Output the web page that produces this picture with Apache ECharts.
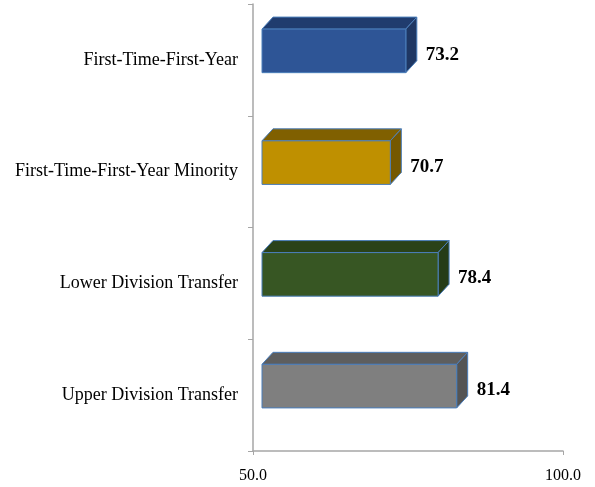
<!DOCTYPE html>
<html>
<head>
<meta charset="utf-8">
<script src="https://cdn.jsdelivr.net/npm/echarts@6/dist/echarts.min.js"></script>
<style>html,body{margin:0;padding:0;background:#fff;}#c{width:595px;height:487px;}</style>
</head>
<body>
<div id="c"></div>
<script>
const categories = ['First-Time-First-Year', 'First-Time-First-Year Minority', 'Lower Division Transfer', 'Upper Division Transfer'];
const values = [73.2, 70.7, 78.4, 81.4];
const xTicks = [50, 100];
const frontColors = ['#2E5596', '#BF9000', '#375623', '#7F7F7F'];
const topColors = ['#203C6E', '#806000', '#2A4219', '#5E5E5E'];
const sideColors = ['#1F3763', '#755800', '#253C17', '#545454'];

const chart = echarts.init(document.getElementById('c'));
const serif = '"Liberation Serif", "Times New Roman", serif';

function renderItem(params, api) {
  const val = api.value(0), cat = api.value(1);
  const start = api.coord([xTicks[0], cat]);
  const end = api.coord([val, cat]);
  const bw = api.size([0, 1])[1] * 0.39;
  const ox = 9, oy = -9, dx = 11, dy = -12;
  const x0 = start[0] + ox, x1 = end[0] + ox, yc = end[1] + oy;
  const y0 = yc - bw / 2, y1 = yc + bw / 2;
  const i = params.dataIndex;
  const edge = { stroke: '#4A7EBB', lineWidth: 1 };
  return {
    type: 'group',
    children: [
      { type: 'polygon', shape: { points: [[x0, y0], [x1, y0], [x1 + dx, y0 + dy], [x0 + dx, y0 + dy]] },
        style: Object.assign({ fill: topColors[i] }, edge) },
      { type: 'polygon', shape: { points: [[x1, y0], [x1 + dx, y0 + dy], [x1 + dx, y1 + dy], [x1, y1]] },
        style: Object.assign({ fill: sideColors[i] }, edge) },
      { type: 'rect', shape: { x: x0, y: y0, width: x1 - x0, height: bw },
        style: Object.assign({ fill: frontColors[i] }, edge) },
      { type: 'text', x: x1 + 20, y: yc + 4,
        style: { text: val.toFixed(1), fill: '#000', font: 'bold 19px ' + serif, verticalAlign: 'middle', align: 'left' } }
    ]
  };
}

chart.setOption({
  animation: false,
  grid: { left: 253, right: 32, top: 4, bottom: 36, containLabel: false },
  xAxis: {
    type: 'value', min: xTicks[0], max: xTicks[1], interval: xTicks[1] - xTicks[0],
    splitLine: { show: false },
    axisLine: { show: true, lineStyle: { color: '#A6A6A6', width: 1.5 } },
    axisTick: { show: true, length: 4, lineStyle: { color: '#A6A6A6' } },
    axisLabel: { color: '#000', fontFamily: serif, fontSize: 16, margin: 17, formatter: v => v.toFixed(1) }
  },
  yAxis: {
    type: 'category', data: categories, inverse: true,
    axisLine: { show: true, lineStyle: { color: '#A6A6A6', width: 1.5 } },
    axisTick: { show: true, length: 5, lineStyle: { color: '#A6A6A6' } },
    axisLabel: { color: '#000', fontFamily: serif, fontSize: 18, margin: 15, padding: [5, 0, 0, 0] }
  },
  series: [{
    type: 'custom',
    renderItem: renderItem,
    encode: { x: 0, y: 1 },
    data: values.map((v, i) => [v, i]),
    clip: false
  }]
});
</script>
</body>
</html>
